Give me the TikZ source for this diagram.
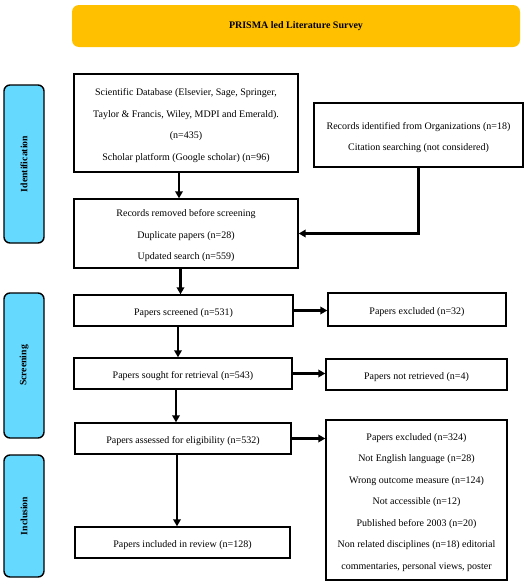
\documentclass[tikz,border=0pt]{standalone}
\usepackage{fontspec}
\setmainfont{Liberation Serif}
\usetikzlibrary{arrows.meta}
\definecolor{titleorange}{RGB}{255,192,0}
\definecolor{sideblue}{RGB}{102,217,255}
\tikzset{
  box/.style={draw=black, line width=1.4pt, fill=white, inner sep=0pt},
  txt/.style={align=center, inner sep=0pt, yshift=-2.5pt, font=\fontsize{10}{21.5}\selectfont},
  side/.style={draw=black, line width=1.4pt, fill=sideblue, rounded corners=6pt, inner sep=0pt},
  sidelabel/.style={rotate=90, font=\bfseries\fontsize{9.7}{11}\selectfont},
  flow/.style={line width=2.2pt, -{Triangle[length=7pt,width=7.5pt]}},
}
\begin{document}
\begin{tikzpicture}[x=1pt,y=-1pt]
\useasboundingbox (0,0) rectangle (528,581);
% title
\node[draw=none, fill=titleorange, rounded corners=7pt, minimum width=448pt, minimum height=42pt,
  font=\bfseries\fontsize{10}{12}\selectfont] (title) at (296,26) {PRISMA led Literature Survey};
% side labels
\node[side, minimum width=40pt, minimum height=158pt] (sid) at (24,164) {};
\node[sidelabel] (sidt) at (sid.center) {Identification};
\node[side, minimum width=40pt, minimum height=145pt] (sscr) at (24,365.5) {};
\node[sidelabel] (sscrt) at (sscr.center) {Screening};
\node[side, minimum width=40pt, minimum height=122pt] (sinc) at (24,516) {};
\node[sidelabel] (sinct) at (sinc.center) {Inclusion};
% boxes
\node[box, minimum width=224pt, minimum height=98pt,
  label={[txt]center:{Scientific Database (Elsevier, Sage, Springer,\\Taylor \& Francis, Wiley, MDPI and Emerald).\\(n=435)\\Scholar platform (Google scholar) (n=96)}}] (db) at (186,123) {};
\node[box, minimum width=209pt, minimum height=64pt,
  label={[txt]center:{Records identified from Organizations (n=18)\\Citation searching (not considered)}}] (org) at (418.5,135) {};
\node[box, minimum width=224pt, minimum height=69pt,
  label={[txt]center:{Records removed before screening\\Duplicate papers (n=28)\\Updated search (n=559)}}] (rem) at (186,233.5) {};
\node[box, minimum width=219pt, minimum height=31pt,
  label={[txt]center:{Papers screened (n=531)}}] (scr) at (183.5,310.5) {};
\node[box, minimum width=178pt, minimum height=33pt,
  label={[txt]center:{Papers excluded (n=32)}}] (ex1) at (417,309.5) {};
\node[box, minimum width=218pt, minimum height=31pt,
  label={[txt]center:{Papers sought for retrieval (n=543)}}] (sou) at (183,373.5) {};
\node[box, minimum width=181pt, minimum height=31pt,
  label={[txt]center:{Papers not retrieved (n=4)}}] (nr) at (416.5,374.5) {};
\node[box, minimum width=216pt, minimum height=31pt,
  label={[txt]center:{Papers assessed for eligibility (n=532)}}] (ass) at (183,438.5) {};
\node[box, minimum width=181pt, minimum height=160pt,
  label={[txt]center:{Papers excluded (n=324)\\Not English language (n=28)\\Wrong outcome measure (n=124)\\Not accessible (n=12)\\Published before 2003 (n=20)\\Non related disciplines (n=18) editorial\\commentaries, personal views, poster}}] (ex2) at (416.5,500) {};
\node[box, minimum width=215pt, minimum height=31pt,
  label={[txt]center:{Papers included in review (n=128)}}] (inc) at (182.5,542.5) {};
% connectors
\draw[flow] ([xshift=-7pt]db.south) -- ([xshift=-7pt]db.south |- rem.north);
\draw[flow] (org.south) |- (rem.east);
\draw[flow] ([xshift=-5.5pt]rem.south) -- ([xshift=-5.5pt]rem.south |- scr.north);
\draw[flow] ([xshift=-5.5pt]scr.south) -- ([xshift=-5.5pt]scr.south |- sou.north);
\draw[flow] ([xshift=-7pt]sou.south) -- ([xshift=-7pt]sou.south |- ass.north);
\draw[flow] ([xshift=-6pt]ass.south) -- ([xshift=-6pt]ass.south |- inc.north);
\draw[flow] (scr.east) -- (scr.east -| ex1.west);
\draw[flow] (sou.east) -- (sou.east -| nr.west);
\draw[flow] (ass.east) -- (ass.east -| ex2.west);
\end{tikzpicture}
\end{document}
